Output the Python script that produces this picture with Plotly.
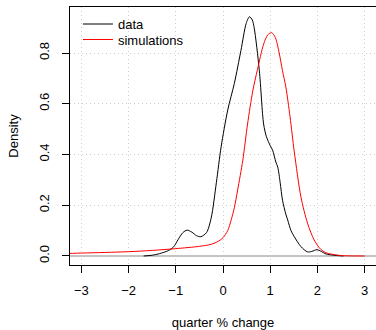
import plotly.graph_objects as go

# Kernel density of observed data (black)
data_x = [-1.68, -1.50, -1.35, -1.16, -1.05, -0.95, -0.85, -0.76, -0.66, -0.56, -0.47,
          -0.35, -0.25, -0.14, -0.04, 0.10, 0.24, 0.38, 0.49, 0.56, 0.62, 0.66, 0.77,
          0.86, 0.92, 1.00, 1.05, 1.12, 1.16, 1.21, 1.26, 1.33, 1.37, 1.44, 1.51, 1.65,
          1.79, 1.88, 1.99, 2.08, 2.18, 2.35, 2.55]
data_y = [0.000, 0.003, 0.009, 0.021, 0.035, 0.065, 0.092, 0.102, 0.094, 0.080, 0.076,
          0.092, 0.150, 0.290, 0.430, 0.575, 0.680, 0.810, 0.916, 0.943, 0.930, 0.900, 0.730,
          0.520, 0.470, 0.435, 0.417, 0.370, 0.350, 0.290, 0.220, 0.165, 0.142, 0.100, 0.076, 0.037,
          0.016, 0.018, 0.025, 0.018, 0.008, 0.003, 0.000]

# Kernel density of simulations (red)
sim_x = [-3.5, -3.0, -2.5, -2.0, -1.5, -1.0, -0.5, -0.25, -0.1, 0.0, 0.1, 0.17, 0.24,
         0.31, 0.42, 0.52, 0.63, 0.73, 0.86, 0.95, 1.03, 1.11, 1.19, 1.26, 1.33, 1.42,
         1.51, 1.65, 1.79, 1.93, 2.07, 2.18, 2.28, 2.49, 2.70, 3.00]
sim_y = [0.009, 0.0115, 0.014, 0.017, 0.022, 0.029, 0.038, 0.046, 0.058, 0.072, 0.100, 0.140, 0.190,
         0.260, 0.378, 0.520, 0.650, 0.735, 0.835, 0.872, 0.880, 0.860, 0.800, 0.730, 0.667, 0.548,
         0.410, 0.233, 0.129, 0.063, 0.026, 0.013, 0.008, 0.002, 0.0005, 0.000]

x_ticks = [-3, -2, -1, 0, 1, 2, 3]
y_ticks = [0.0, 0.2, 0.4, 0.6, 0.8]

FONT = "Liberation Sans, Arial, Helvetica, sans-serif"

fig = go.Figure()
fig.add_trace(go.Scatter(x=data_x, y=data_y, mode="lines", name="data", legend="legend",
                         line=dict(color="black", width=1, shape="spline", smoothing=0.8)))
fig.add_trace(go.Scatter(x=sim_x, y=sim_y, mode="lines", name="simulations", legend="legend2",
                         line=dict(color="red", width=1, shape="spline", smoothing=0.8)))

leg_common = dict(xanchor="left", yanchor="top", bgcolor="rgba(0,0,0,0)",
                  font=dict(size=13), itemwidth=30)
fig.update_layout(
    width=376, height=330,
    margin=dict(l=70, r=0, t=7, b=65, autoexpand=False),
    paper_bgcolor="white", plot_bgcolor="white",
    font=dict(family=FONT, size=13, color="black"),
    showlegend=True,
    legend=dict(x=0.026, y=0.992, **leg_common),
    legend2=dict(x=0.026, y=0.932, **leg_common),
)
grid_dash = "1px,3px"
fig.update_xaxes(
    range=[-3.24, 3.24], tickvals=x_ticks,
    showline=True, linecolor="black", linewidth=1, mirror=True,
    ticks="outside", ticklen=7, tickcolor="black", tickwidth=1,
    tickfont=dict(size=13),
    showgrid=True, gridcolor="#cfcfcf", griddash=grid_dash, gridwidth=1,
    zeroline=False,
    title=dict(text="quarter % change", standoff=23, font=dict(size=13)),
    ticklabelstandoff=6, automargin=False,
)
fig.update_yaxes(
    range=[-0.0355, 0.9813], tickvals=y_ticks, tickformat=".1f",
    showline=True, linecolor="black", linewidth=1, mirror=False,
    ticks="outside", ticklen=7, tickcolor="black", tickwidth=1,
    tickfont=dict(size=13),
    showgrid=True, gridcolor="#cfcfcf", griddash=grid_dash, gridwidth=1,
    zeroline=True, zerolinecolor="#c4c4c4", zerolinewidth=1.5,
    tickangle=-90,
    title=dict(text="Density", standoff=15, font=dict(size=13)),
    ticklabelstandoff=8, automargin=False,
)

fig.write_html("out.html", config={"displayModeBar": False},
               post_script="document.body.style.margin='0';")
